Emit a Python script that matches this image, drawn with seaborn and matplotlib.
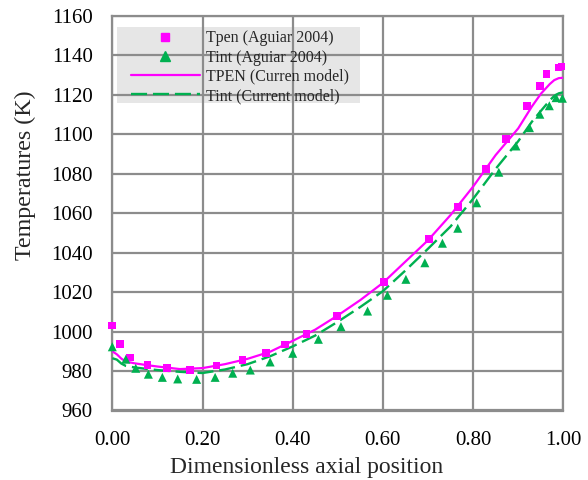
import matplotlib
matplotlib.use("Agg")
import matplotlib.pyplot as plt
from matplotlib.lines import Line2D
from matplotlib.patches import Rectangle
import numpy as np
import pandas as pd
import seaborn as sns

# ---- data ----
tpen_exp_x = [0.0, 0.017, 0.039, 0.078, 0.121, 0.172, 0.231, 0.289, 0.341, 0.383, 0.431,
              0.498, 0.602, 0.702, 0.766, 0.829, 0.873, 0.919, 0.948, 0.963, 0.989, 0.996]
tpen_exp_y = [1003.0, 993.6, 986.8, 983.1, 981.7, 980.5, 982.9, 985.6, 989.0, 993.5, 998.9,
              1007.9, 1025.1, 1046.8, 1063.2, 1082.4, 1097.6, 1114.5, 1124.5, 1130.6, 1133.8, 1134.3]

tint_exp_x = [0.0, 0.030, 0.052, 0.080, 0.111, 0.145, 0.187, 0.228, 0.267, 0.306, 0.350, 0.400,
              0.457, 0.507, 0.566, 0.610, 0.651, 0.693, 0.732, 0.766, 0.808, 0.857, 0.895,
              0.925, 0.948, 0.969, 0.984, 0.998]
tint_exp_y = [992.3, 986.0, 981.4, 978.4, 976.8, 976.0, 975.8, 976.8, 978.9, 980.5, 984.6, 989.0,
              996.1, 1002.5, 1010.4, 1018.4, 1026.5, 1034.9, 1044.8, 1052.4, 1065.3, 1080.8, 1094.1,
              1103.4, 1110.2, 1114.5, 1118.6, 1118.3]

model_x = [0.0, 0.01, 0.02, 0.03, 0.05, 0.08, 0.10, 0.15, 0.20, 0.25, 0.30, 0.35, 0.40, 0.45,
           0.50, 0.55, 0.60, 0.65, 0.70, 0.75, 0.80, 0.85, 0.90, 0.93, 0.95, 0.97, 0.98, 0.99, 1.00]
tpen_model = [990.0, 988.5, 986.3, 984.8, 983.9, 982.9, 982.3, 981.0, 981.5, 983.5, 986.2, 989.8,
              995.3, 1001.0, 1008.2, 1016.0, 1024.7, 1035.5, 1046.3, 1059.1, 1073.5, 1089.5,
              1103.0, 1114.0, 1120.5, 1125.5, 1127.5, 1128.5, 1128.7]
tint_model = [986.5, 985.8, 983.8, 982.6, 981.8, 981.0, 980.5, 979.6, 979.0, 980.8, 983.5, 987.5,
              992.5, 998.0, 1005.0, 1012.5, 1020.5, 1031.0, 1042.0, 1053.3, 1067.3, 1082.5,
              1096.5, 1106.3, 1111.8, 1117.2, 1119.5, 1120.8, 1121.3]

x_ticks = [0.0, 0.2, 0.4, 0.6, 0.8, 1.0]
y_ticks = list(range(960, 1161, 20))

labels = ["Tpen (Aguiar 2004)", "Tint (Aguiar 2004)",
          "TPEN (Curren model)", "Tint (Current model)"]

MAGENTA = "#FF00FF"
GREEN = "#00B050"
GRID = "#8C8C8C"
DASH = [6.8, 2.5]

sns.set_style("white")
plt.rcParams["font.family"] = ["Liberation Serif", "DejaVu Serif"]

W, H = 588, 480
x0, x1, ytop, ybot = 112.3, 563.3, 16.0, 410.5
fig = plt.figure(figsize=(W / 100, H / 100), dpi=100)
ax = fig.add_axes([x0 / W, 1 - ybot / H, (x1 - x0) / W, (ybot - ytop) / H])

def ax_fx(px):
    return (px - x0) / (x1 - x0)

def ax_fy(py):
    return (ybot - py) / (ybot - ytop)

df_tpen = pd.DataFrame({"x": tpen_exp_x, "y": tpen_exp_y})
df_tint = pd.DataFrame({"x": tint_exp_x, "y": tint_exp_y})
df_model = pd.DataFrame({"x": model_x, "tpen": tpen_model, "tint": tint_model})

sns.lineplot(data=df_model, x="x", y="tpen", ax=ax, color=MAGENTA, lw=1.6, zorder=3,
             sort=False, estimator=None)
sns.lineplot(data=df_model, x="x", y="tint", ax=ax, color=GREEN, lw=1.7, zorder=3,
             sort=False, estimator=None)
ax.lines[-1].set_dashes(DASH)
sns.scatterplot(data=df_tpen, x="x", y="y", ax=ax, color=MAGENTA, marker="s", s=30,
                edgecolor="none", zorder=4, clip_on=False)
sns.scatterplot(data=df_tint, x="x", y="y", ax=ax, color=GREEN, marker="^", s=42,
                edgecolor="none", zorder=4, clip_on=False)

ax.set_xlim(0, 1)
ax.set_ylim(960, 1160)
ax.set_xticks(x_ticks)
ax.set_xticklabels([f"{v:.2f}" for v in x_ticks])
ax.set_yticks(y_ticks)
ax.set_yticklabels([str(v) for v in y_ticks])
ax.tick_params(axis="both", length=0, labelsize=15, colors="black")
ax.tick_params(axis="x", pad=15)
ax.tick_params(axis="y", pad=14)

ax.set_axisbelow(True)
ax.grid(True, color=GRID, lw=1.6)
for s in ax.spines.values():
    s.set_color(GRID)
    s.set_linewidth(1.6)

ax.set_xlabel("Dimensionless axial position", fontsize=17)
ax.xaxis.set_label_coords(ax_fx(306.5), ax_fy(467), transform=ax.transAxes)
ax.xaxis.label.set_va("center")
ax.set_ylabel("Temperatures (K)", fontsize=17.3)
ax.yaxis.set_label_coords(ax_fx(25), ax_fy(175), transform=ax.transAxes)
ax.yaxis.label.set_va("center")

# legend background (drawn below the grid, like the original)
bg = Rectangle((ax_fx(117.3), ax_fy(103.3)), ax_fx(360) - ax_fx(117.3),
               ax_fy(27.3) - ax_fy(103.3), transform=ax.transAxes,
               facecolor="#E6E6E6", edgecolor="none", zorder=0.1)
ax.add_patch(bg)

handles = [
    Line2D([], [], ls="none", marker="s", color=MAGENTA, markersize=5.5),
    Line2D([], [], ls="none", marker="^", color=GREEN, markersize=6.5),
    Line2D([], [], color=MAGENTA, lw=1.6),
    Line2D([], [], color=GREEN, lw=1.7, dashes=DASH),
]
leg = ax.legend(handles, labels, loc="upper left",
                bbox_to_anchor=(ax_fx(131), ax_fy(30.5)), borderaxespad=0,
                fontsize=11.5, frameon=False, handlelength=4.3,
                handletextpad=0.42, borderpad=0.0, labelspacing=0.2)
leg.set_zorder(5)

fig.savefig("out.png", dpi=100)
